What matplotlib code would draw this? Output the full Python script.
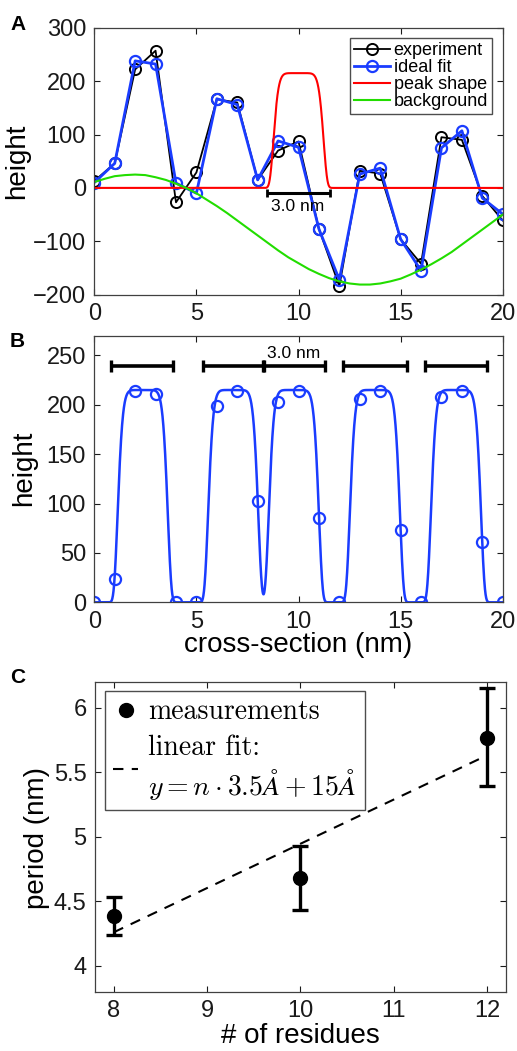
import numpy as np
import matplotlib
matplotlib.use("Agg")
import matplotlib.pyplot as plt
from matplotlib.ticker import FormatStrFormatter
from matplotlib.font_manager import FontProperties

plt.rcParams['font.family'] = ['Liberation Sans', 'DejaVu Sans']
plt.rcParams['mathtext.fontset'] = 'cm'

# ---- panel A: profile across the fibril ----
pos = np.arange(0, 21)
experiment = [13, 46, 222, 257, -27, 29, 166, 160, 15, 70, 87, -77, -184,
              32, 27, -96, -142, 95, 90, -15, -61]
ideal_fit = [10, 46, 238, 232, 9, -10, 167, 156, 15, 88, 76, -77, -172,
             26, 37, -96, -155, 75, 107, -19, -49]

# background read every 0.5 nm
bg_x = np.arange(0, 20.5, 0.5)
background = [11, 17, 22, 24, 25, 24, 20, 15, 8, 0, -10, -22, -34, -47, -61,
              -75, -89, -103, -117, -130, -141, -152, -161, -169, -175, -179,
              -181, -181, -179, -175, -170, -162, -153, -143, -132, -120,
              -106, -92, -78, -64, -50]

# ---- panel B: peaks only ----
peaks_only = [0, 24, 214, 211, 0, 0, 199, 214, 103, 203, 214, 85, 0, 206, 214,
              73, 0, 208, 214, 61, 0]
peak_centers = [2.37, 6.80, 9.77, 13.74, 17.71]
peak_height = 215
peak_halfwidth = 1.25
single_peak_center = 10.0

bar_start = [0.82, 5.31, 8.33, 12.19, 16.19]
bar_end = [3.87, 8.28, 11.30, 15.30, 19.25]

# ---- panel C: period vs residues ----
residues = [8, 10, 12]
period = [4.385, 4.68, 5.765]
err_low = [4.236, 4.43, 5.39]
err_high = [4.534, 4.93, 6.15]
fit_x = [8, 12]
fit_y = [4.26, 5.63]


def peak(x, c):
    return peak_height * np.exp(-np.abs((x - c) / peak_halfwidth) ** 8)


blue = '#1a3cff'
green = '#22dd00'
axcol = '0.25'
tick_fs = 17
label_fs = 20


def style(ax):
    ax.tick_params(direction='in', top=True, right=True, length=4,
                   labelsize=tick_fs, colors='0.1', pad=6)
    for s in ax.spines.values():
        s.set_color(axcol)
        s.set_linewidth(0.9)


fig = plt.figure(figsize=(5.17, 10.51), dpi=100)

# A
axA = fig.add_axes([0.1824, 0.7196, 0.790, 0.254])
xs = np.linspace(0, 20, 2001)
axA.plot(pos, experiment, '-o', color='k', lw=1.3, ms=8, mfc='none', mew=1.4,
         label='experiment')
axA.plot(pos, ideal_fit, '-o', color=blue, lw=2.0, ms=8, mfc='none', mew=1.6,
         label='ideal fit')
axA.plot(xs, peak(xs, single_peak_center), color='red', lw=1.5, label='peak shape')
axA.plot(bg_x, background, color=green, lw=1.5, label='background')
axA.errorbar((8.44 + 11.54) / 2, -9, xerr=(11.54 - 8.44) / 2, color='k',
             lw=2.2, capsize=3, capthick=2.0)
axA.text(9.94, -35, '3.0 nm', ha='center', va='center', fontsize=12.5)
axA.set_xlim(0, 20)
axA.set_ylim(-200, 300)
axA.set_xticks([0, 5, 10, 15, 20])
axA.set_yticks([-200, -100, 0, 100, 200, 300])
axA.set_ylabel('height', fontsize=label_fs)
axA.yaxis.set_label_coords(-0.157, 0.498)
style(axA)
legA = axA.legend(loc='upper right', bbox_to_anchor=(0.973, 0.960),
                  borderaxespad=0, fontsize=13, labelspacing=0.0,
                  handlelength=2.0, handletextpad=0.2, borderpad=0.2,
                  fancybox=False, framealpha=1)
legA.get_frame().set_edgecolor('0.3')
legA.get_frame().set_linewidth(1.0)

# B
axB = fig.add_axes([0.1824, 0.4269, 0.790, 0.2537])
curve = np.zeros_like(xs)
for c in peak_centers:
    curve = curve + peak(xs, c)
axB.plot(xs, curve, color=blue, lw=1.8)
axB.plot(pos, peaks_only, 'o', color=blue, ms=8, mfc='none', mew=1.6)
for s, e in zip(bar_start, bar_end):
    axB.errorbar((s + e) / 2, 239, xerr=(e - s) / 2, color='k', lw=2.6,
                 capsize=4.5, capthick=2.4)
axB.text(9.75, 251.8, '3.0 nm', ha='center', va='center', fontsize=12.5)
axB.set_xlim(0, 20)
axB.set_ylim(0, 270)
axB.set_xticks([0, 5, 10, 15, 20])
axB.set_yticks([0, 50, 100, 150, 200, 250])
axB.set_ylabel('height', fontsize=label_fs)
axB.yaxis.set_label_coords(-0.141, 0.504)
axB.set_xlabel('cross-section (nm)', fontsize=label_fs)
axB.xaxis.set_label_coords(0.4995, -0.112)
style(axB)

# C
axC = fig.add_axes([0.1838, 0.0564, 0.7944, 0.295])
yerr = [np.array(period) - np.array(err_low), np.array(err_high) - np.array(period)]
axC.errorbar(residues, period, yerr=yerr, fmt='none', ecolor='k',
             lw=2.4, capsize=6, capthick=2.4)
h_meas, = axC.plot(residues, period, 'o', color='k', ms=10, label='measurements')
h_fit, = axC.plot(fit_x, fit_y, '--', color='k', lw=1.5, dashes=(5, 4),
                  label='linear fit:\n$y = n \\cdot 3.5\\AA + 15\\AA$')
axC.set_xlim(7.8, 12.2)
axC.set_ylim(3.8, 6.2)
axC.set_xticks([8, 9, 10, 11, 12])
axC.set_yticks([4, 4.5, 5, 5.5, 6])
axC.yaxis.set_major_formatter(FormatStrFormatter('%g'))
axC.set_ylabel('period (nm)', fontsize=label_fs)
axC.yaxis.set_label_coords(-0.1096, 0.496)
axC.set_xlabel('# of residues', fontsize=label_fs)
axC.xaxis.set_label_coords(0.499, -0.102)
style(axC)
legC = axC.legend(handles=[h_meas, h_fit], loc='upper left',
                  bbox_to_anchor=(0.024, 0.971), borderaxespad=0,
                  prop=FontProperties(family='cmr10', size=20),
                  handlelength=0.9, handletextpad=0.35, borderpad=0.3,
                  labelspacing=0.35, fancybox=False, framealpha=1)
legC.get_frame().set_edgecolor('0.3')
legC.get_frame().set_linewidth(1.0)

fig.text(0.021, 0.9715, 'A', fontsize=15, fontweight='bold', va='baseline')
fig.text(0.0193, 0.670, 'B', fontsize=15, fontweight='bold', va='baseline')
fig.text(0.0193, 0.3499, 'C', fontsize=15, fontweight='bold', va='baseline')

fig.savefig('out.png', dpi=100)
